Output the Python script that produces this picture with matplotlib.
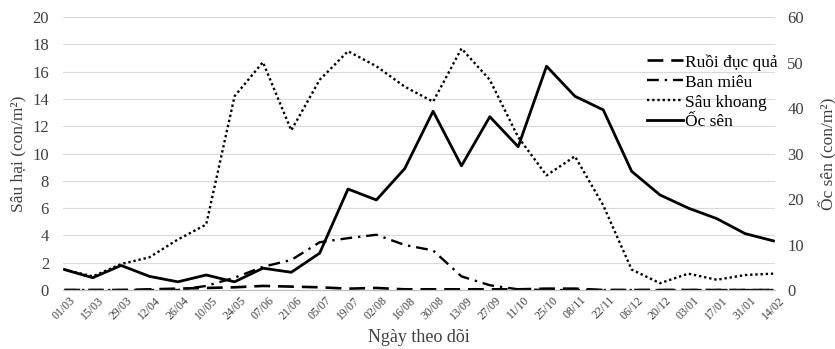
import matplotlib
matplotlib.use("Agg")
import numpy as np
from matplotlib import pyplot as plt

plt.rcParams['font.family'] = ['Liberation Serif', 'DejaVu Serif']

dates = ["01/03", "15/03", "29/03", "12/04", "26/04", "10/05", "24/05", "07/06", "21/06",
         "05/07", "19/07", "02/08", "16/08", "30/08", "13/09", "27/09", "11/10", "25/10",
         "08/11", "22/11", "06/12", "20/12", "03/01", "17/01", "31/01", "14/02"]

# sâu hại (trục trái)
ruoi_duc_qua = [0, 0, 0, 0.05, 0.1, 0.15, 0.2, 0.3, 0.25, 0.2, 0.1, 0.15, 0.05, 0.05, 0.05, 0.05,
                0.05, 0.1, 0.1, 0, 0, 0, 0, 0, 0, 0]
ban_mieu = [0, 0, 0, 0, 0, 0.3, 0.9, 1.7, 2.2, 3.5, 3.8, 4.05, 3.3, 2.9, 1.0, 0.35,
            0.05, 0, 0, 0, 0, 0, 0, 0, 0, 0]
sau_khoang = [1.5, 1.0, 1.9, 2.4, 3.7, 4.8, 14.2, 16.7, 11.7, 15.4, 17.5, 16.4, 14.9, 13.8, 17.7, 15.4,
              11.2, 8.4, 9.8, 6.2, 1.5, 0.5, 1.2, 0.75, 1.1, 1.2]
# ốc sên (trục phải)
oc_sen = [4.5, 2.7, 5.4, 3.0, 1.8, 3.3, 1.8, 4.8, 3.9, 8.1, 22.2, 19.8, 26.7, 39.3, 27.3, 38.1,
          31.5, 49.2, 42.6, 39.6, 26.1, 20.9, 18.0, 15.7, 12.4, 10.8]

x = np.arange(len(dates))

fig = plt.figure(figsize=(8.35, 3.49), dpi=100)
ax = fig.add_axes([0.0754, 0.169, 0.8526, 0.782])
ax2 = ax.twinx()

l1, = ax.plot(x, ruoi_duc_qua, color='black', lw=1.9, linestyle=(0, (6, 3)), label='Ruồi đục quả')
l2, = ax.plot(x, ban_mieu, color='black', lw=1.7, linestyle=(0, (5, 2.5, 1, 2.5)), label='Ban miêu')
l3, = ax.plot(x, sau_khoang, color='black', lw=1.7, linestyle=(0, (1, 1.2)), label='Sâu khoang')
l4, = ax2.plot(x, oc_sen, color='black', lw=2.0, label='Ốc sên')

ax.set_ylim(0, 20)
ax.set_yticks(np.arange(0, 21, 2))
ax2.set_ylim(0, 60)
ax2.set_yticks(np.arange(0, 61, 10))
ax.set_xlim(-0.05, 25.05)
ax.set_xticks(x)
ax.set_xticklabels(dates, rotation=45)

ax.grid(axis='y', color='#d9d9d9', lw=0.8)
ax.set_axisbelow(True)
for a in (ax, ax2):
    for s in ('top', 'left', 'right'):
        a.spines[s].set_visible(False)
    a.spines['bottom'].set_color('#bfbfbf')
    a.tick_params(length=0, labelsize=12, colors='#404040')
ax.tick_params(axis='x', labelsize=8.5, pad=3)
ax.tick_params(axis='y', pad=10)
ax2.tick_params(axis='y', pad=9)

ax.set_ylabel('Sâu hại (con/m²)', fontsize=12.5, color='#404040', labelpad=4)
ax2.set_ylabel('Ốc sên (con/m²)', fontsize=12.5, color='#404040', labelpad=10)
ax.set_xlabel('Ngày theo dõi', fontsize=13, color='#404040', labelpad=5)

ax.legend(handles=[l1, l2, l3, l4], loc='upper left', bbox_to_anchor=(0.81, 0.89),
          frameon=False, fontsize=12.5, handlelength=2.1, handletextpad=0.1,
          labelspacing=0.22, borderaxespad=0)

fig.savefig('out.png', dpi=100)
